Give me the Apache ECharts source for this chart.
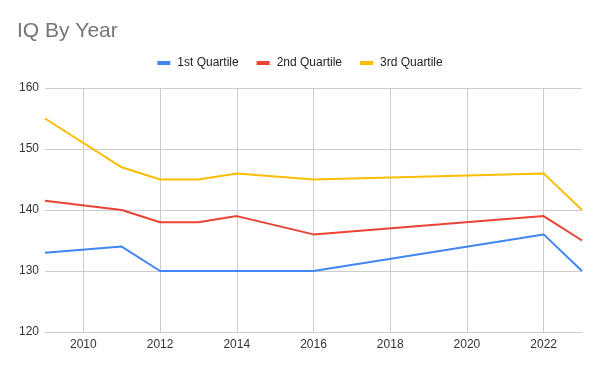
<!DOCTYPE html>
<html>
<head>
<meta charset="utf-8">
<script src="https://cdn.jsdelivr.net/npm/echarts@6/dist/echarts.min.js"></script>
<style>html,body{margin:0;padding:0;background:#fff;}#c{width:600px;height:371px;}</style>
</head>
<body>
<div id="c"></div>
<script>
var years = [2009, 2011, 2012, 2013, 2014, 2016, 2022, 2023];
var q1 = [133, 134, 130, 130, 130, 130, 136, 130];
var q2 = [141.5, 140, 138, 138, 139, 136, 139, 135];
var q3 = [155, 147, 145, 145, 146, 145, 146, 140];
var seriesNames = ['1st Quartile', '2nd Quartile', '3rd Quartile'];
var seriesColors = ['#4285F4', '#EA4335', '#FBBC04'];
var xTicks = [2010, 2012, 2014, 2016, 2018, 2020, 2022];
var yTicks = [120, 130, 140, 150, 160];

function pairs(vals) { return years.map(function (y, i) { return [y, vals[i]]; }); }
var all = [q1, q2, q3];

var chart = echarts.init(document.getElementById('c'), null, {renderer: 'canvas'});
chart.setOption({
  animation: false,
  backgroundColor: '#ffffff',
  title: {
    text: 'IQ By Year',
    left: 12, top: 16,
    textStyle: {fontFamily: 'Arial', fontSize: 21, fontWeight: 'normal', color: '#757575'}
  },
  legend: {
    data: seriesNames,
    top: 52, left: 'center',
    icon: 'rect', itemWidth: 13, itemHeight: 4, itemGap: 18,
    textStyle: {fontFamily: 'Arial', fontSize: 12, color: '#222222', padding: [0, 0, 0, 2]}
  },
  grid: {left: 45, right: 18, top: 88, bottom: 39, containLabel: false},
  xAxis: {
    type: 'value', min: 2009, max: 2023,
    axisLine: {show: false},
    axisTick: {show: false, customValues: xTicks},
    axisLabel: {customValues: xTicks, fontFamily: 'Arial', fontSize: 12, color: '#333333', margin: 7,
      formatter: function (v) { return String(v); }},
    splitLine: {show: true, lineStyle: {color: '#cccccc', width: 1}}
  },
  yAxis: {
    type: 'value', min: yTicks[0], max: yTicks[yTicks.length - 1], interval: 10,
    axisLine: {show: false}, axisTick: {show: false},
    axisLabel: {fontFamily: 'Arial', fontSize: 12, color: '#333333', margin: 6},
    splitLine: {show: true, lineStyle: {color: '#cccccc', width: 1}}
  },
  series: seriesNames.map(function (n, i) {
    return {
      name: n, type: 'line', data: pairs(all[i]),
      showSymbol: false, symbol: 'none',
      lineStyle: {width: 2, color: seriesColors[i]},
      itemStyle: {color: seriesColors[i]}
    };
  })
});
</script>
</body>
</html>
